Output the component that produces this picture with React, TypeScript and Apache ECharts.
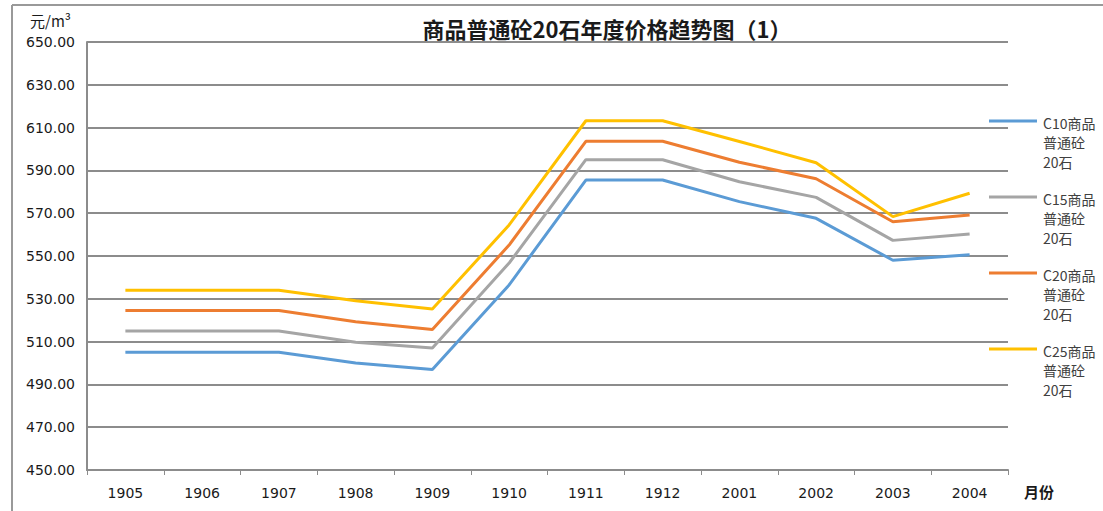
import React, { useEffect, useRef } from "react";
import * as echarts from "echarts";

const categories = ["1905", "1906", "1907", "1908", "1909", "1910", "1911", "1912", "2001", "2002", "2003", "2004"];
const c10 = [505, 505, 505, 500, 497, 536.5, 585.5, 585.5, 575.4, 567.6, 548, 550.6];
const c15 = [515, 515, 515, 509.7, 507, 546.7, 595, 595, 584.7, 577.4, 557.3, 560.3];
const c20 = [524.5, 524.5, 524.5, 519.3, 515.7, 555.1, 603.6, 603.6, 593.8, 586.1, 566, 569.2];
const c25 = [534, 534, 534, 529.1, 525.2, 564.5, 613.2, 613.2, 603.5, 593.6, 568.4, 579.3];
const seriesNames = ["C10商品普通砼20石", "C15商品普通砼20石", "C20商品普通砼20石", "C25商品普通砼20石"];
const legendLines = [
  ["C10商品", "普通砼", "20石"],
  ["C15商品", "普通砼", "20石"],
  ["C20商品", "普通砼", "20石"],
  ["C25商品", "普通砼", "20石"],
];
const colors = ["#5B9BD5", "#A5A5A5", "#ED7D31", "#FFC000"];
const titleText = "商品普通砼20石年度价格趋势图（1）";
const yUnit = "元/m³";
const xUnit = "月份";

export default function App() {
  const ref = useRef<HTMLDivElement>(null);
  useEffect(() => {
    if (!ref.current) return;
    const chart = echarts.init(ref.current, undefined, { renderer: "svg" });
    const data = [c10, c15, c20, c25];
    const legendGraphics: any[] = [];
    const legendY = [121, 197, 273, 349];
    legendLines.forEach((lines, i) => {
      legendGraphics.push({
        type: "line",
        shape: { x1: 989, y1: legendY[i], x2: 1037, y2: legendY[i] },
        style: { stroke: colors[i], lineWidth: 3 },
      });
      legendGraphics.push({
        type: "text",
        x: 1043,
        y: legendY[i] - 8,
        style: {
          text: lines.join("\n"),
          fill: "#404040",
          font: '14px "Noto Sans CJK SC", sans-serif',
          lineHeight: 19.5,
          verticalAlign: "top",
        },
      });
    });
    chart.setOption({
      animation: false,
      backgroundColor: "#ffffff",
      title: {
        text: titleText,
        left: 602,
        top: 12,
        textAlign: "center",
        textStyle: {
          fontFamily: '"Noto Sans CJK SC", sans-serif',
          fontSize: 22,
          fontWeight: "bold",
          color: "#1a1a1a",
        },
      },
      grid: { left: 87, right: 95, top: 42, bottom: 41 },
      xAxis: {
        type: "category",
        data: categories,
        boundaryGap: true,
        axisLine: { lineStyle: { color: "#8c8c8c", width: 2 } },
        axisTick: { show: true, length: 5, lineStyle: { color: "#8c8c8c", width: 1 } },
        axisLabel: {
          margin: 16,
          color: "#1a1a1a",
          fontFamily: '"DejaVu Sans", sans-serif',
          fontSize: 14,
        },
      },
      yAxis: {
        type: "value",
        min: 450,
        max: 650,
        interval: 20,
        axisLine: { show: true, lineStyle: { color: "#8c8c8c", width: 2 } },
        axisTick: { show: false },
        splitLine: { lineStyle: { color: "#8c8c8c", width: 2 } },
        axisLabel: {
          margin: 12,
          color: "#1a1a1a",
          fontFamily: '"DejaVu Sans", sans-serif',
          fontSize: 14,
          formatter: (v: number) => v.toFixed(2),
        },
      },
      series: data.map((d, i) => ({
        name: seriesNames[i],
        type: "line",
        data: d,
        symbol: "none",
        lineStyle: { color: colors[i], width: 3 },
        itemStyle: { color: colors[i] },
      })),
      graphic: [
        { type: "line", shape: { x1: 12, y1: 5, x2: 12, y2: 511 }, style: { stroke: "#999999", lineWidth: 2 } },
        { type: "line", shape: { x1: 12, y1: 5, x2: 1103, y2: 5 }, style: { stroke: "#999999", lineWidth: 2 } },
        {
          type: "text",
          x: 30,
          y: 13,
          style: { text: yUnit, fill: "#1a1a1a", font: '15px "Noto Sans CJK SC", sans-serif' },
        },
        {
          type: "text",
          x: 1024,
          y: 484,
          style: { text: xUnit, fill: "#1a1a1a", font: 'bold 15px "Noto Sans CJK SC", sans-serif' },
        },
        ...legendGraphics,
      ],
    });
    return () => chart.dispose();
  }, []);
  return <div ref={ref} style={{ width: 1103, height: 511, position: "absolute", left: 0, top: 0 }} />;
}
